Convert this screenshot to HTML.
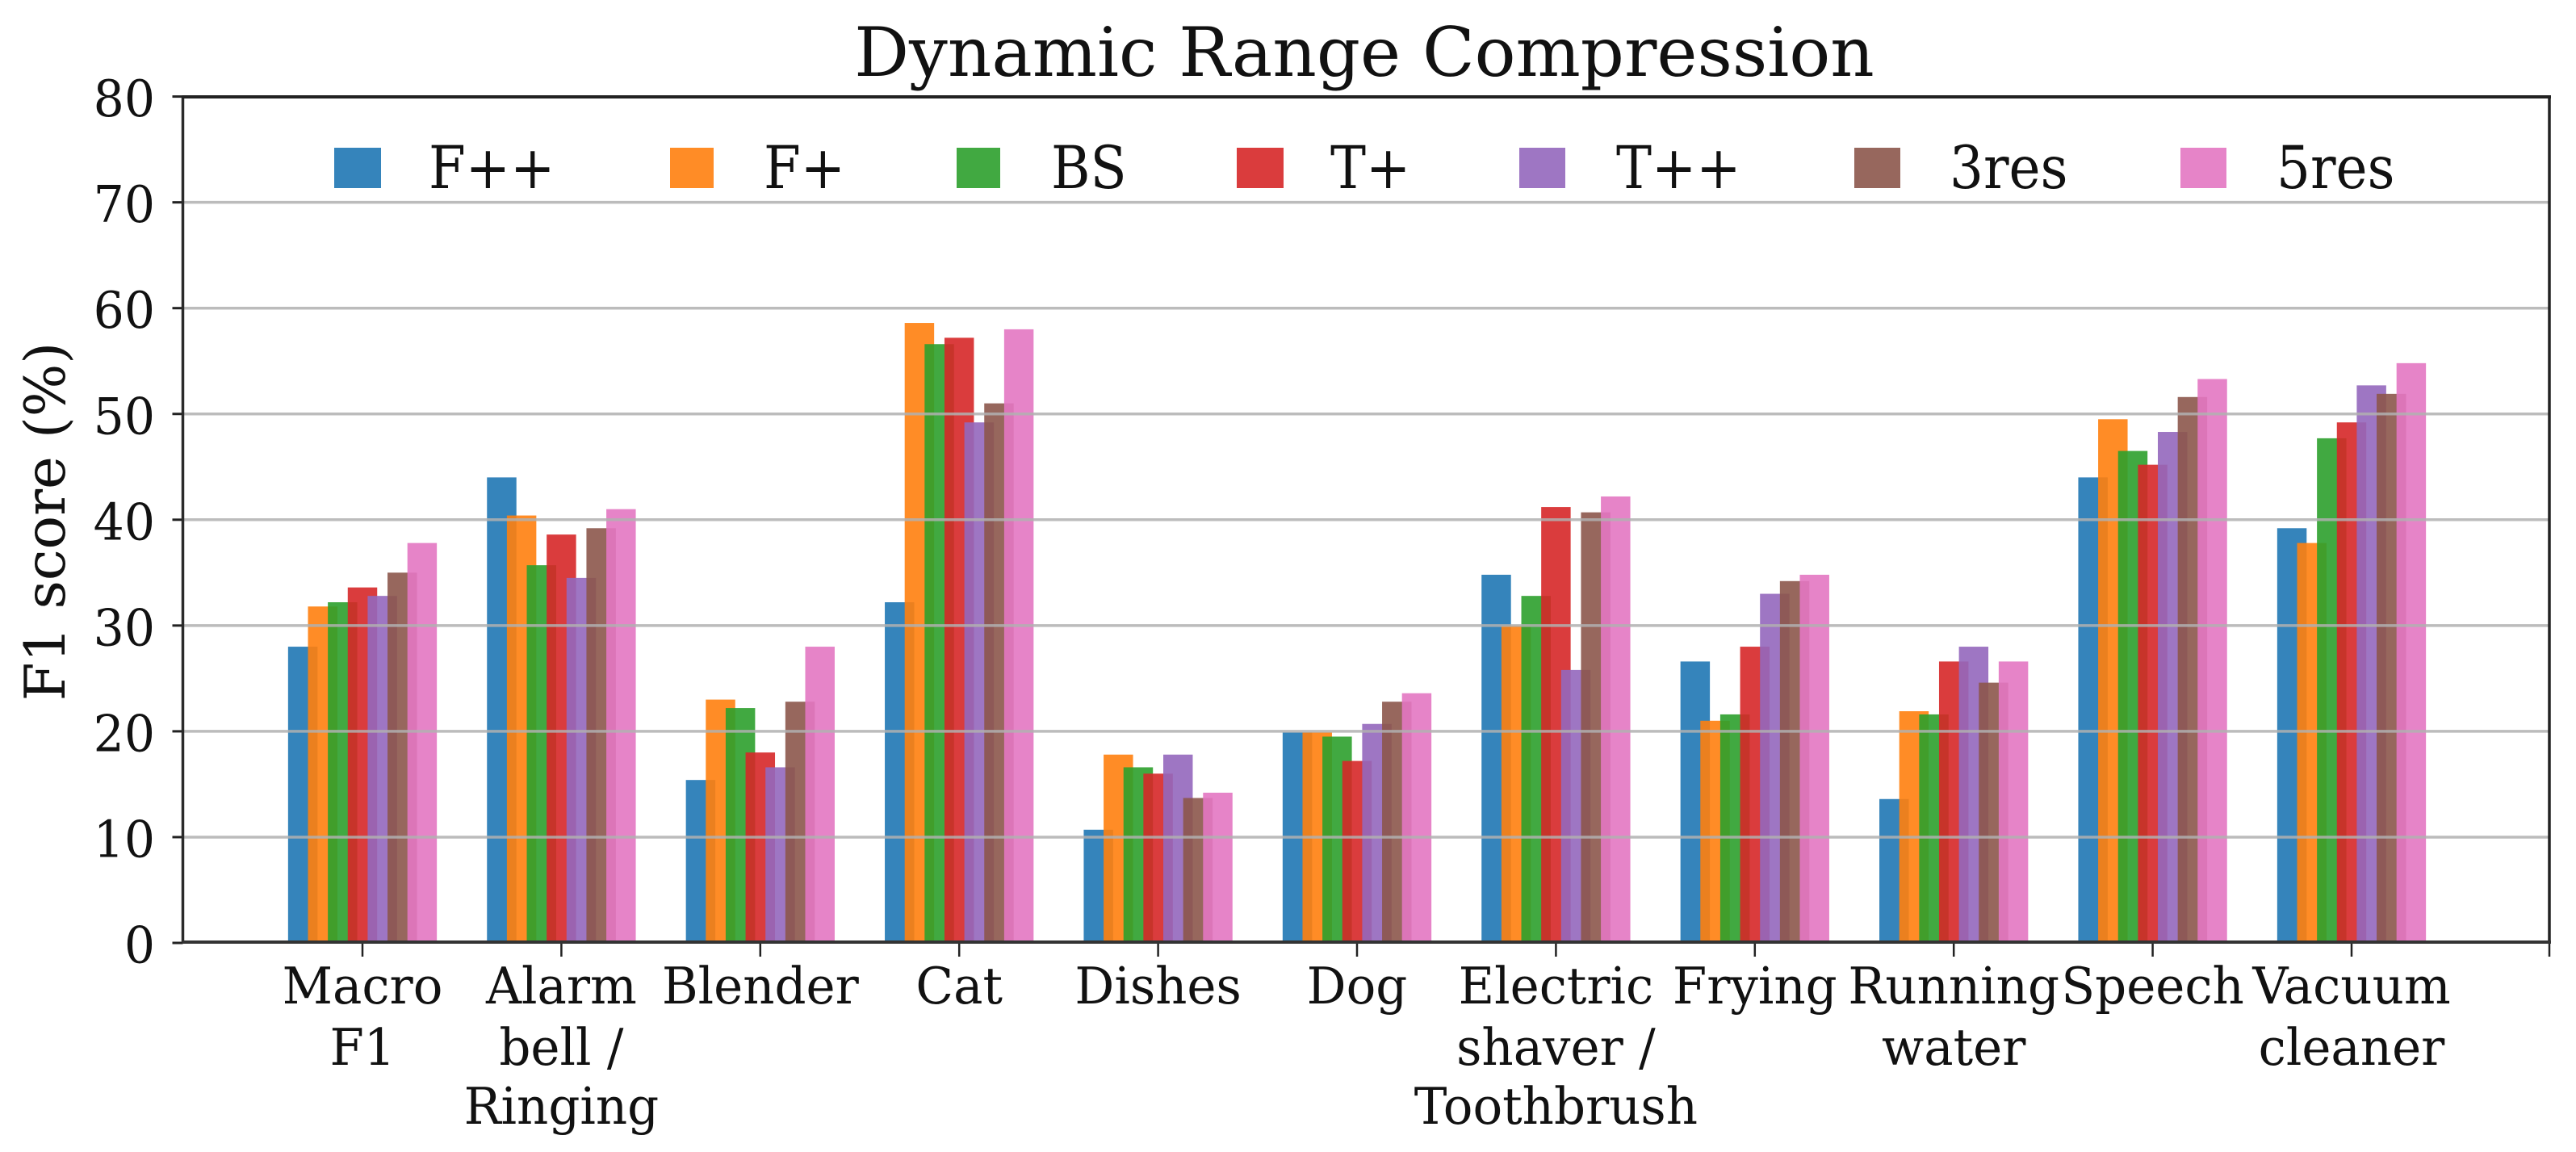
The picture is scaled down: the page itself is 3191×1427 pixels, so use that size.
<!DOCTYPE html>
<html>
<head>
<meta charset="utf-8">
<title>Dynamic Range Compression</title>
<style>
html,body{margin:0;padding:0;background:#fff;}
svg{display:block;}
text{font-family:"DejaVu Serif",serif;fill:#111;}
</style>
</head>
<body>
<svg id="chart" xmlns="http://www.w3.org/2000/svg" width="3191" height="1427" viewBox="0 0 3191 1427">
  <rect x="0" y="0" width="3191" height="1427" fill="#fff"/>
  <text x="1690" y="94" font-size="84.6" text-anchor="middle">Dynamic Range Compression</text>
  <text transform="translate(80,646) rotate(-90)" font-size="69" text-anchor="middle">F1 score (%)</text>
  <g id="bars"></g>
  <g id="grid"></g>
  <g id="axes"></g>
  <g font-size="66">
    <g><rect x="414" y="183" width="58" height="50" fill="#1f77b4" opacity="0.9"/><text transform="translate(531,233) scale(1,1.1)">F++</text></g>
    <g><rect x="830" y="183" width="54" height="50" fill="#ff7f0e" opacity="0.9"/><text transform="translate(946,233) scale(1,1.1)">F+</text></g>
    <g><rect x="1185" y="183" width="54" height="50" fill="#2ca02c" opacity="0.9"/><text transform="translate(1302,233) scale(1,1.1)">BS</text></g>
    <g><rect x="1532" y="183" width="58" height="50" fill="#d62728" opacity="0.9"/><text transform="translate(1648,233) scale(1,1.1)">T+</text></g>
    <g><rect x="1882" y="183" width="57" height="50" fill="#9467bd" opacity="0.9"/><text transform="translate(2002,233) scale(1,1.1)">T++</text></g>
    <g><rect x="2297" y="183" width="57" height="50" fill="#8c564b" opacity="0.9"/><text transform="translate(2415,233) scale(1,1.1)">3res</text></g>
    <g><rect x="2701" y="183" width="57" height="50" fill="#e377c2" opacity="0.9"/><text transform="translate(2820,233) scale(1,1.1)">5res</text></g>
  </g>
</svg>
<script>
var categories = [["Macro","F1"],["Alarm","bell /","Ringing"],["Blender"],["Cat"],["Dishes"],["Dog"],["Electric","shaver /","Toothbrush"],["Frying"],["Running","water"],["Speech"],["Vacuum","cleaner"]];
var seriesNames = ["F++","F+","BS","T+","T++","3res","5res"];
var seriesColors = ["#1f77b4","#ff7f0e","#2ca02c","#d62728","#9467bd","#8c564b","#e377c2"];
var valuesFpp  = [28.0,44.0,15.4,32.2,10.7,19.9,34.8,26.6,13.6,44.0,39.2];
var valuesFp   = [31.8,40.4,23.0,58.6,17.8,19.9,30.0,21.0,21.9,49.5,37.8];
var valuesBS   = [32.2,35.7,22.2,56.6,16.6,19.5,32.8,21.6,21.6,46.5,47.7];
var valuesTp   = [33.6,38.6,18.0,57.2,16.0,17.2,41.2,28.0,26.6,45.2,49.2];
var valuesTpp  = [32.8,34.5,16.6,49.2,17.8,20.7,25.8,33.0,28.0,48.3,52.7];
var values3res = [35.0,39.2,22.8,51.0,13.7,22.8,40.7,34.2,24.6,51.6,51.9];
var values5res = [37.8,41.0,28.0,58.0,14.2,23.6,42.2,34.8,26.6,53.3,54.8];
var yTicks = [0,10,20,30,40,50,60,70,80];

var allSeries = [valuesFpp,valuesFp,valuesBS,valuesTp,valuesTpp,values3res,values5res];
var SVGNS = "http://www.w3.org/2000/svg";
var plotLeft = 226.5, plotRight = 3158, plotTop = 120, plotBottom = 1167;
var barStep = 0.1, barWidth = 0.148;
var lineOffsets = [0, 76, 149];

function xScale(v){ return 449 + v * 246.4; }
function yScale(v){ return 1168 - v * 13.105; }
function make(tag, attrs){
  var el = document.createElementNS(SVGNS, tag);
  for (var k in attrs) el.setAttribute(k, attrs[k]);
  return el;
}
var barsG = document.getElementById("bars");
var gridG = document.getElementById("grid");
var axesG = document.getElementById("axes");

allSeries.forEach(function(vals, s){
  vals.forEach(function(v, c){
    var x0 = xScale(c + (s - 3) * barStep - barWidth / 2);
    var x1 = xScale(c + (s - 3) * barStep + barWidth / 2);
    var r = make("rect", {x:x0, y:yScale(v), width:x1 - x0, height:yScale(0) - yScale(v), fill:seriesColors[s], opacity:0.9});
    
    
    barsG.appendChild(r);
  });
});

yTicks.forEach(function(t){
  var y = yScale(t);
  if (t > 0 && t < 80) {
    var g = make("line", {x1:plotLeft, x2:plotRight, y1:y, y2:y, stroke:"#b0b0b0", "stroke-width":3.5, "stroke-opacity":0.85});
    
    
    gridG.appendChild(g);
  }
  var tk = make("line", {x1:plotLeft - 13, x2:plotLeft, y1:y, y2:y, stroke:"#222", "stroke-width":3});
  
  
  axesG.appendChild(tk);
  var lb = make("text", {"font-size":60, "text-anchor":"end", transform:"translate(192," + (y + 24.5) + ") scale(1,1.04)"});
  
  
  lb.textContent = t;
  axesG.appendChild(lb);
});

categories.concat([[]]).forEach(function(lines, c){
  var x = xScale(c);
  if (c === categories.length) x = plotRight;
  var tk = make("line", {x1:x, x2:x, y1:plotBottom, y2:plotBottom + 18, stroke:"#222", "stroke-width":2.5});
  
  
  axesG.appendChild(tk);
  lines.forEach(function(line, i){
    var lb = make("text", {"font-size":61, "text-anchor":"middle", transform:"translate(" + x + "," + (1243 + lineOffsets[i]) + ") scale(1,1.03)"});
    
    
    lb.textContent = line;
    axesG.appendChild(lb);
  });
});

var spineLeft = make("line", {x1:plotLeft, x2:plotLeft, y1:plotTop, y2:plotBottom, stroke:"#2a2a2a", "stroke-width":3.5});


axesG.appendChild(spineLeft);
var spineRight = make("line", {x1:plotRight, x2:plotRight, y1:plotTop, y2:plotBottom, stroke:"#222", "stroke-width":3.5});


axesG.appendChild(spineRight);
var spineTop = make("line", {x1:plotLeft - 1, x2:plotRight + 2, y1:plotTop, y2:plotTop, stroke:"#222", "stroke-width":4});


axesG.appendChild(spineTop);
var spineBottom = make("line", {x1:plotLeft - 1, x2:plotRight + 2, y1:plotBottom, y2:plotBottom, stroke:"#333", "stroke-width":4});


axesG.appendChild(spineBottom);
</script>
</body>
</html>
